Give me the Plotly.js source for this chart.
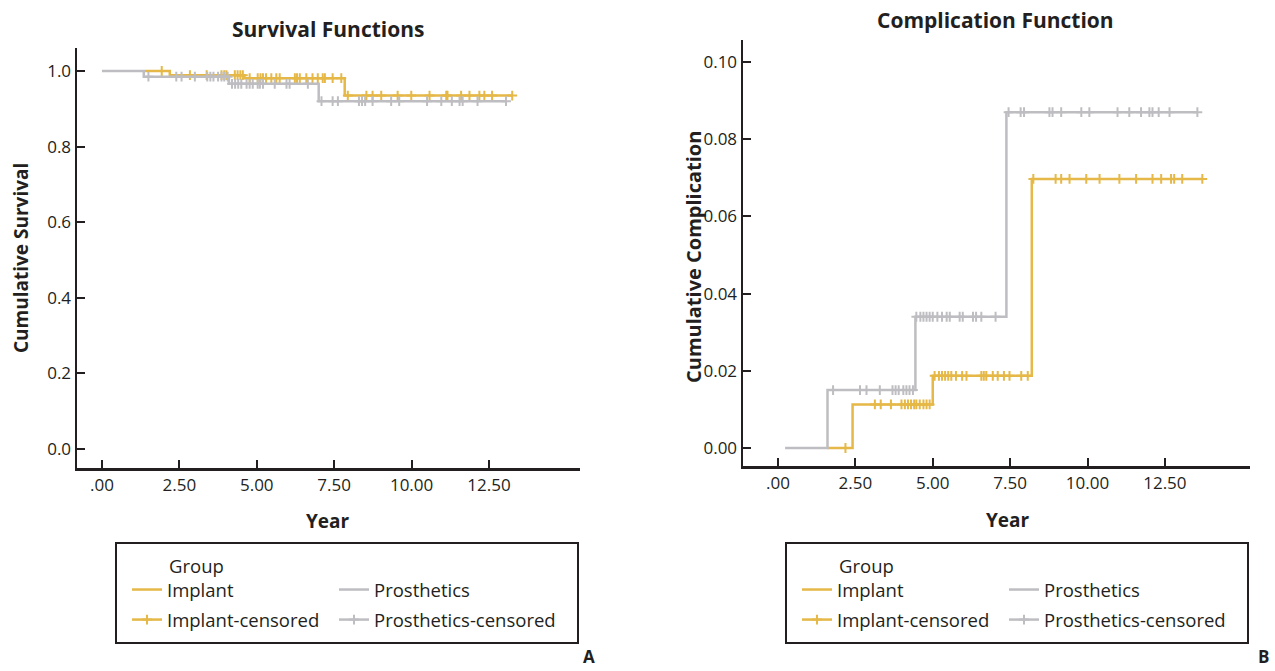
<!DOCTYPE html>
<html>
<head>
<meta charset="utf-8">
<script src="https://cdn.plot.ly/plotly-3.0.1.min.js"></script>
<style>html,body{margin:0;padding:0;background:#fff;}#chart{width:1275px;height:671px;}</style>
</head>
<body>
<div id="chart"></div>
<script>
// ---------------- DATA ----------------
const xTickVals = [0, 2.5, 5, 7.5, 10, 12.5];
const xTickText = ['.00', '2.50', '5.00', '7.50', '10.00', '12.50'];

// Panel A: Survival Functions
const survImplantTimes  = [1.39, 2.19, 4.6, 7.84, 13.25];
const survImplantValues = [1.0, 0.989, 0.981, 0.935, 0.935];
const survImplantCensor = [1.93, 2.84, 3.38, 3.86, 3.95, 4.02, 4.29, 4.38, 4.47, 4.55, 4.77, 5.03, 5.12, 5.2, 5.3, 5.47, 5.63, 5.74, 6.23, 6.3, 6.39, 6.6, 6.8, 6.97, 7.13, 7.2, 7.45, 7.73, 7.94, 8.54, 8.74, 9.02, 9.55, 9.99, 10.58, 11.12, 11.16, 11.6, 11.87, 12.19, 12.35, 12.6, 13.25];

const survProsTimes  = [0, 1.35, 4.1, 7.0, 13.05];
const survProsValues = [1.0, 0.985, 0.966, 0.920, 0.920];
const survProsCensor = [1.5, 2.4, 2.57, 3.0, 3.4, 3.5, 3.6, 3.75, 3.86, 3.95, 4.06, 4.2, 4.3, 4.4, 4.5, 4.67, 4.77, 4.87, 5.03, 5.1, 5.2, 5.58, 5.96, 6.06, 6.65, 7.09, 7.45, 7.62, 8.3, 8.4, 8.5, 8.74, 9.34, 9.6, 10.5, 10.96, 11.3, 11.55, 11.65, 12.13, 13.05];

// Panel B: Complication Function
const compImplantTimes  = [1.6, 2.41, 5.0, 8.2, 13.71];
const compImplantValues = [0, 0.0113, 0.0187, 0.0697, 0.0697];
const compImplantCensor = [2.18, 3.13, 3.32, 3.65, 3.99, 4.1, 4.2, 4.3, 4.4, 4.47, 4.58, 4.7, 4.8, 4.9, 5.06, 5.2, 5.3, 5.4, 5.5, 5.6, 5.75, 5.95, 6.09, 6.57, 6.65, 6.73, 6.94, 7.1, 7.3, 7.48, 7.86, 8.07, 8.25, 8.97, 9.15, 9.42, 9.96, 10.39, 11.03, 11.57, 12.1, 12.38, 12.7, 12.8, 13.06, 13.71];

const compProsTimes  = [0.23, 1.6, 4.44, 7.38, 13.55];
const compProsValues = [0, 0.015, 0.034, 0.087, 0.087];
const compProsCensor = [1.78, 2.65, 2.86, 3.29, 3.7, 3.8, 3.9, 4.05, 4.15, 4.25, 4.36, 4.47, 4.6, 4.7, 4.8, 4.9, 5.0, 5.15, 5.3, 5.45, 5.55, 5.87, 5.97, 6.3, 6.4, 6.57, 7.03, 7.45, 7.84, 7.95, 8.77, 8.87, 9.15, 9.8, 10.06, 10.97, 11.35, 11.73, 12.0, 12.1, 12.3, 12.65, 13.55];

const groupNames = ['Implant', 'Prosthetics'];

// ---------------- STYLE ----------------
const W = 1275, H = 671;
const FONT = 'Open Sans, Noto Sans, sans-serif';
const INK = '#231f20';
const GOLD = '#E5B847';
const GRAY = '#BEBEC2';
const px = v => v / W;
const py = v => 1 - v / H;

function stepAt(times, values, t) {
  let v = values[0];
  for (let i = 0; i < times.length; i++) if (times[i] <= t) v = values[i];
  return v;
}

// censored points separated by gaps, so the legend shows line + cross but no line is drawn between marks
function gapped(arr) {
  const out = [];
  arr.forEach((v, i) => { out.push(v); if (i < arr.length - 1) out.push(null); });
  return out;
}

function km(times, values, censor, name, color, xa, ya, leg) {
  const cy = censor.map(t => stepAt(times, values, t));
  return [
    {x: times, y: values, type: 'scatter', mode: 'lines', line: {shape: 'hv', color: color, width: 2.5},
     name: name, xaxis: xa, yaxis: ya, legend: leg, legendgroup: leg + 'a', hoverinfo: 'x+y'},
    {x: gapped(censor), y: gapped(cy), type: 'scatter', mode: 'lines+markers', connectgaps: false,
     line: {color: color, width: 2.5},
     marker: {symbol: 'cross-thin', size: 7, color: color, line: {color: color, width: 2}},
     name: name + '-censored', xaxis: xa, yaxis: ya, legend: leg, legendgroup: leg + 'b', hoverinfo: 'x+y'}
  ];
}

const data = [].concat(
  km(survImplantTimes, survImplantValues, survImplantCensor, groupNames[0], GOLD, 'x', 'y', 'legend'),
  km(survProsTimes, survProsValues, survProsCensor, groupNames[1], GRAY, 'x', 'y', 'legend2'),
  km(compImplantTimes, compImplantValues, compImplantCensor, groupNames[0], GOLD, 'x2', 'y2', 'legend3'),
  km(compProsTimes, compProsValues, compProsCensor, groupNames[1], GRAY, 'x2', 'y2', 'legend4')
);

const tickFont = {size: 17, color: INK, family: FONT};
function xAxis(domain, range, anchor) {
  return {domain: domain, range: range, anchor: anchor, tickvals: xTickVals, ticktext: xTickText,
    showline: true, linecolor: INK, linewidth: 2.5, ticks: 'inside', ticklen: 8, tickwidth: 2,
    tickcolor: INK, showgrid: false, zeroline: false, tickfont: tickFont};
}
function yAxis(domain, range, anchor, dtick, fmt) {
  return {domain: domain, range: range, anchor: anchor, dtick: dtick, tick0: 0, tickformat: fmt,
    showline: true, linecolor: INK, linewidth: 2.5, ticks: 'inside', ticklen: 8, tickwidth: 2,
    tickcolor: INK, showgrid: false, zeroline: false, tickfont: tickFont};
}

function legendAt(xpx, ypx) {
  return {x: px(xpx), y: py(ypx), xanchor: 'left', yanchor: 'top', orientation: 'v', bgcolor: 'rgba(0,0,0,0)',
    font: {size: 18.5, color: INK, family: FONT}, itemwidth: 30, tracegroupgap: 3, traceorder: 'grouped'};
}

const titleFont = {size: 19, color: INK, family: FONT};
const bigTitleFont = {size: 21, color: INK, family: FONT};
const ann = (text, x, y, opts) => Object.assign({text: text, x: px(x), y: py(y), xref: 'paper', yref: 'paper',
  xanchor: 'center', yanchor: 'middle', showarrow: false, font: {size: 18.5, color: INK, family: FONT}}, opts || {});

const layout = {
  width: W, height: H, margin: {l: 0, r: 0, t: 0, b: 0}, paper_bgcolor: '#fff', plot_bgcolor: '#fff',
  font: {family: FONT, color: INK},
  showlegend: true,
  xaxis: xAxis([px(77), px(580)], [-0.807, 15.44], 'y'),
  yaxis: yAxis([1 - 468 / H, 1 - 48 / H], [-0.0503, 1.0608], 'x', 0.2, '.1f'),
  xaxis2: xAxis([px(743), px(1250)], [-1.13, 15.25], 'y2'),
  yaxis2: yAxis([1 - 466 / H, 1 - 40 / H], [-0.00466, 0.1057], 'x2', 0.02, '.2f'),
  legend: legendAt(127, 571),
  legend2: legendAt(334, 571),
  legend3: legendAt(797, 571),
  legend4: legendAt(1004, 571),
  shapes: [
    {type: 'rect', xref: 'paper', yref: 'paper', x0: px(116), x1: px(578), y0: py(643), y1: py(543), line: {color: INK, width: 2}},
    {type: 'rect', xref: 'paper', yref: 'paper', x0: px(786), x1: px(1248), y0: py(643), y1: py(543), line: {color: INK, width: 2}}
  ],
  annotations: [
    ann('<b>Survival Functions</b>', 328, 29, {font: bigTitleFont}),
    ann('<b>Complication Function</b>', 995, 20, {font: bigTitleFont}),
    ann('<b>Year</b>', 328, 521, {font: titleFont}),
    ann('<b>Year</b>', 1008, 520, {font: titleFont}),
    ann('<b>Cumulative Survival</b>', 21, 258, {textangle: -90, font: titleFont}),
    ann('<b>Cumulative Complication</b>', 693, 257, {textangle: -90, font: {size: 20, color: INK, family: FONT}}),
    ann('Group', 167, 565, {xanchor: 'left'}),
    ann('Group', 837, 565, {xanchor: 'left'}),
    ann('<b>A</b>', 589, 669, {yanchor: 'bottom', borderpad: 0, font: {size: 17, color: INK, family: FONT}}),
    ann('<b>B</b>', 1263, 669, {yanchor: 'bottom', borderpad: 0, font: {size: 17, color: INK, family: FONT}})
  ]
};

Plotly.newPlot('chart', data, layout, {displayModeBar: false, staticPlot: true});
</script>
</body>
</html>
